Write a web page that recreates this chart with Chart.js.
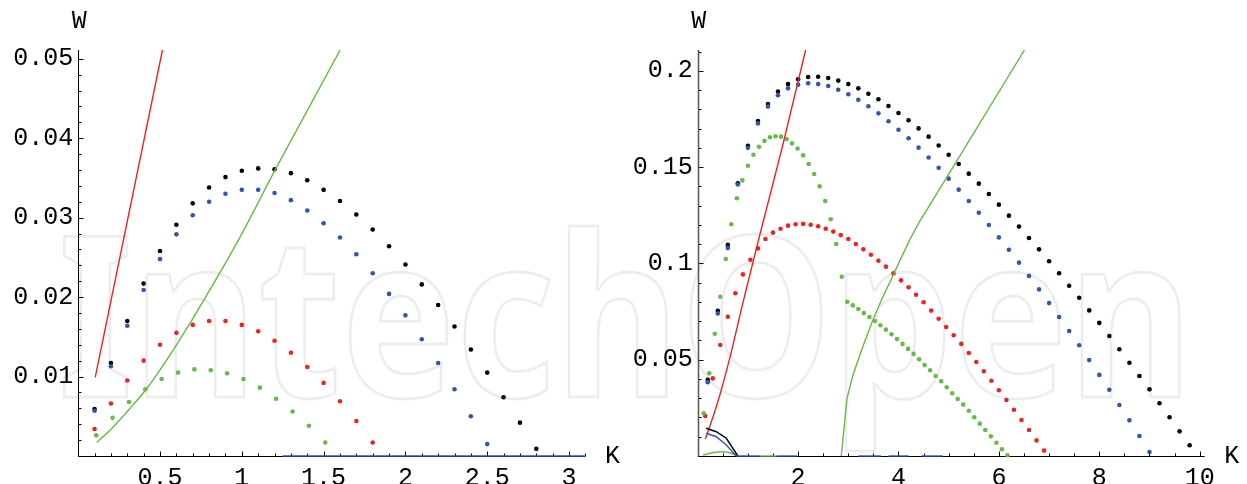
<!DOCTYPE html>
<html>
<head>
<meta charset="utf-8">
<script src="https://cdn.jsdelivr.net/npm/chart.js@4.4.1/dist/chart.umd.min.js"></script>
<style>
  html, body { margin: 0; padding: 0; background: #fff; }
  #wrap { position: relative; width: 1247px; height: 484px; }
  canvas { position: absolute; top: 0; }
  #left { left: 0; }
  #right { left: 623px; }
</style>
</head>
<body>
<div id="wrap">
  <canvas id="left" width="623" height="484"></canvas>
  <canvas id="right" width="624" height="484"></canvas>
</div>
<script>
// ---- left panel data ----
var leftK = [0.1,0.2,0.3,0.4,0.5,0.6,0.7,0.8,0.9,1.0,1.1,1.2,1.3,1.4,1.5,1.6,1.7,1.8,1.9,2.0,2.1,2.2,2.3,2.4,2.5,2.6,2.7,2.8];
var leftBlack = [0.0059,0.0117,0.0170,0.0217,0.0258,0.0291,0.0318,0.0338,0.0351,0.0359,0.0362,0.0361,0.0356,0.0347,0.0335,0.0321,0.0304,0.0285,0.0264,0.0241,0.0216,0.0190,0.0163,0.0134,0.0105,0.0074,0.0042,0.0009];
var leftBlue = [0.0057,0.0113,0.0164,0.0209,0.0248,0.0279,0.0303,0.0320,0.0330,0.0335,0.0335,0.0331,0.0322,0.0309,0.0293,0.0275,0.0254,0.0230,0.0204,0.0177,0.0147,0.0117,0.0084,0.0050,0.0015];
var leftRed = [0.0034,0.0066,0.0095,0.0120,0.0140,0.0155,0.0165,0.0170,0.0170,0.0165,0.0157,0.0145,0.0130,0.0112,0.0092,0.0069,0.0044,0.0017];
var leftGreenK = [0.11,0.21,0.31,0.41,0.51,0.61,0.71,0.81,0.91,1.01,1.11,1.21,1.31,1.41,1.51];
var leftGreen = [0.0026,0.0048,0.0068,0.0084,0.0097,0.0105,0.0109,0.0108,0.0104,0.0097,0.0086,0.0072,0.0056,0.0038,0.0017];
var leftRedLineK = [0.104,0.515];
var leftRedLine = [0.0099,0.0511];
var leftGreenLineK = [0.114,0.206,0.308,0.416,0.512,0.613,0.715,0.98,1.206,1.601];
var leftGreenLine = [0.0017,0.0035,0.0058,0.0084,0.0112,0.0144,0.0178,0.0272,0.0361,0.0511];
var leftBlueZeroK = [1.25,3.1];
var leftXTicks = [0.5,1,1.5,2,2.5,3];
var leftYTicks = [0.01,0.02,0.03,0.04,0.05];

// ---- right panel data ----
var rightK = [0.2,0.4,0.6,0.8,1.0,1.2,1.4,1.6,1.8,2.0,2.2,2.4,2.6,2.8,3.0,3.2,3.4,3.6,3.8,4.0,4.2,4.4,4.6,4.8,5.0,5.2,5.4,5.6,5.8,6.0,6.2,6.4,6.6,6.8,7.0,7.2,7.4,7.6,7.8,8.0,8.2,8.4,8.6,8.8,9.0,9.2,9.4,9.6,9.8];
var rightBlack = [0.0395,0.0754,0.1096,0.1416,0.161,0.1739,0.1828,0.1892,0.1931,0.1956,0.1968,0.1969,0.1963,0.1949,0.1931,0.1909,0.1881,0.1852,0.1817,0.1781,0.1743,0.1701,0.1658,0.1612,0.1564,0.1516,0.1466,0.1414,0.1360,0.1305,0.1248,0.1191,0.1132,0.1073,0.1011,0.0949,0.0884,0.0822,0.0756,0.0691,0.0623,0.0554,0.0484,0.0415,0.0346,0.0274,0.0201,0.0128,0.0056];
var rightBlue = [0.0383,0.074,0.108,0.141,0.160,0.1727,0.1814,0.1873,0.1909,0.1928,0.1935,0.1931,0.1921,0.1902,0.1878,0.1850,0.1816,0.1779,0.1738,0.1694,0.1650,0.1601,0.1550,0.1496,0.1440,0.1383,0.1324,0.1263,0.1199,0.1135,0.1071,0.1004,0.0935,0.0865,0.0794,0.0722,0.0649,0.0575,0.0498,0.0421,0.0344,0.0265,0.0185,0.0104,0.0021];
var rightRedK = [0.15,0.3,0.45,0.6,0.75,0.9,1.05,1.2,1.35,1.5,1.65,1.8,1.95,2.1,2.25,2.4,2.55,2.7,2.85,3.0,3.15,3.3,3.45,3.6,3.75,3.9,4.05,4.2,4.35,4.5,4.65,4.8,4.95,5.1,5.25,5.4,5.55,5.7,5.85,6.0,6.15,6.3,6.45,6.6,6.75,6.9];
var rightRed = [0.0208,0.0403,0.0576,0.0723,0.0845,0.0943,0.1019,0.1078,0.1127,0.1160,0.1180,0.1196,0.1203,0.1205,0.1201,0.1193,0.1180,0.1165,0.1147,0.1127,0.1101,0.1073,0.1045,0.1014,0.0983,0.0948,0.0912,0.0876,0.0837,0.0798,0.0755,0.0713,0.0670,0.0627,0.0582,0.0535,0.0488,0.0440,0.0391,0.0341,0.0291,0.0240,0.0187,0.0135,0.0081,0.0028];
var rightGreenK = [0.12,0.23,0.34,0.45,0.56,0.67,0.78,0.89,1.00,1.11,1.22,1.33,1.44,1.55,1.66,1.77,1.88,1.99,2.10,2.21,2.32,2.43,2.54,2.65,2.76,2.87,2.98,3.09,3.20,3.31,3.42,3.53,3.64,3.75,3.86,3.97,4.08,4.19,4.30,4.41,4.52,4.63,4.74,4.85,4.96,5.07,5.18,5.29,5.40,5.51,5.62,5.73,5.84,5.95,6.06,6.17];
var rightGreen = [0.0222,0.0429,0.0635,0.0827,0.1023,0.1203,0.1338,0.1431,0.1507,0.1564,0.1606,0.1636,0.1655,0.1660,0.1658,0.1646,0.1623,0.1596,0.1561,0.1516,0.1464,0.1400,0.1324,0.1229,0.1101,0.0931,0.0801,0.0782,0.0763,0.0742,0.0722,0.0701,0.0679,0.0656,0.0632,0.0607,0.0582,0.0556,0.0530,0.0502,0.0472,0.0445,0.0415,0.0388,0.0357,0.0326,0.0296,0.0267,0.0235,0.0201,0.0168,0.0135,0.0102,0.0069,0.0035,0.0004];
var rightRedLineK = [0.153,0.4,0.65,0.9,1.2,1.7,2.15];
var rightRedLine = [0.0088,0.028,0.052,0.0795,0.111,0.162,0.2108];
var rightGreenLineK = [2.86,2.975,3.094,3.29,3.49,3.66,4.22,4.42,5.086,6.51];
var rightGreenLine = [0,0.030,0.0421,0.0568,0.0706,0.081,0.1121,0.1217,0.150,0.2108];
var rightBlackCurveK = [0.17,0.37,0.57,0.80];
var rightBlackCurve = [0.0144,0.0126,0.0092,0];
var rightBlueCurveK = [0.17,0.37,0.57,0.77];
var rightBlueCurve = [0.0118,0.0100,0.0057,0];
var rightGreenCurveK = [0.105,0.30,0.47,0.64,0.77];
var rightGreenCurve = [0.0005,0.0017,0.0022,0.0017,0.0002];
var rightBlueZero = [[0.77,1.24],[1.57,1.98],[3.2,3.65],[3.8,4.2],[4.46,4.88]];
var rightGreenZero = [[1.24,1.57]];
var rightXTicks = [2,4,6,8,10];
var rightYTicks = [0.05,0.1,0.15,0.2];

var BLACK = '#000000', BLUE = '#3355aa', RED = '#ee2222', GREEN = '#66bb44';
var tickFont = { family: 'Liberation Mono', size: 25 };

function pts(xs, ys) {
  return ys.map(function(v, i) { return { x: xs[i], y: v }; });
}
function dots(xs, ys, color) {
  return { data: pts(xs, ys), showLine: false, pointRadius: 2.3, pointBorderWidth: 0,
           pointBackgroundColor: color, clip: false };
}
function line(xs, ys, color, smooth) {
  return { data: pts(xs, ys), showLine: true, pointRadius: 0, borderColor: color,
           borderWidth: 1.4, cubicInterpolationMode: smooth ? 'monotone' : 'default', tension: smooth ? 0.4 : 0 };
}
function zeros(segs, color) {
  return segs.map(function(s) {
    return { data: [{ x: s[0], y: 0 }, { x: s[1], y: 0 }], showLine: true, pointRadius: 0,
             borderColor: color, borderWidth: 1.4, clip: false };
  });
}
function fmt(v) { return v === 0 ? '' : String(Number(v.toFixed(4))); }

// inward axis ticks, W/K labels and the faint watermark
function decor(cfg) {
  return {
    id: 'decor',
    beforeDraw: function(chart) {
      var ctx = chart.ctx;
      ctx.save();
      ctx.font = 'bold 224px "Noto Sans"';
      var w = ctx.measureText('IntechOpen').width;
      ctx.translate(58 - cfg.offset, 397);
      ctx.scale(1135 / w, 1);
      ctx.strokeStyle = 'rgba(0,0,0,0.07)';
      ctx.lineWidth = 3;
      ctx.strokeText('IntechOpen', 0, 0);
      ctx.restore();
    },
    beforeDatasetsDraw: function(chart) {
      var ctx = chart.ctx, a = chart.chartArea, x = chart.scales.x, y = chart.scales.y;
      var left = Math.round(a.left) + 0.5, bottom = Math.round(a.bottom) + 0.5;
      ctx.save();
      ctx.strokeStyle = '#000';
      ctx.lineWidth = 1;
      ctx.beginPath();
      ctx.moveTo(a.left, bottom); ctx.lineTo(a.right, bottom);
      var i, v, px, len;
      for (i = 1; (v = i * cfg.minorX) <= x.max + 1e-9; i++) {
        px = Math.round(x.getPixelForValue(v)) + 0.5;
        len = (i % cfg.majorEveryX === 0) ? 5 : 3;
        ctx.moveTo(px, bottom); ctx.lineTo(px, bottom - len);
      }
      for (i = 1; (v = i * cfg.minorY) <= y.max + 1e-9; i++) {
        px = Math.round(y.getPixelForValue(v)) + 0.5;
        len = (i % cfg.majorEveryY === 0) ? 5 : 3;
        ctx.moveTo(left, px); ctx.lineTo(left + len, px);
      }
      ctx.stroke();
      ctx.beginPath();
      ctx.strokeStyle = cfg.yAxisColor;
      ctx.lineWidth = cfg.yAxisWidth;
      ctx.moveTo(left, a.top); ctx.lineTo(left, bottom);
      ctx.stroke();
      ctx.fillStyle = '#000';
      ctx.font = '25px "Liberation Mono"';
      ctx.textAlign = 'center';
      ctx.textBaseline = 'middle';
      ctx.fillText('W', a.left + 1, 21);
      ctx.fillText('K', a.right + 27, a.bottom);
      ctx.restore();
    }
  };
}

function makeChart(id, cfg) {
  return new Chart(document.getElementById(id), {
    type: 'scatter',
    data: { datasets: cfg.datasets },
    options: {
      responsive: false,
      animation: false,
      events: [],
      layout: { padding: { left: 0, right: cfg.padRight, top: 50, bottom: 0 } },
      plugins: { legend: { display: false }, tooltip: { enabled: false } },
      scales: {
        x: {
          type: 'linear', min: 0, max: cfg.xMax,
          grid: { display: false, drawTicks: false }, border: { display: false },
          afterBuildTicks: function(s) { s.ticks = cfg.xTicks.map(function(v) { return { value: v }; }); },
          afterFit: function(s) { s.height = 28; },
          ticks: { font: tickFont, color: '#000', padding: 7, maxRotation: 0, autoSkip: false,
                   callback: function(v) { return fmt(v); } }
        },
        y: {
          type: 'linear', min: 0, max: cfg.yMax,
          grid: { display: false, drawTicks: false }, border: { display: false },
          afterBuildTicks: function(s) { s.ticks = cfg.yTicks.map(function(v) { return { value: v }; }); },
          afterFit: function(s) { s.width = cfg.yWidth; },
          ticks: { font: tickFont, color: '#000', padding: 5, autoSkip: false,
                   callback: function(v) { return fmt(v); } }
        }
      }
    },
    plugins: [decor(cfg)]
  });
}

makeChart('left', {
  offset: 0, padRight: 37.6, yWidth: 78.2, xMax: 3.1, yMax: 0.0511,
  xTicks: leftXTicks, yTicks: leftYTicks,
  minorX: 0.1, majorEveryX: 5, minorY: 0.002, majorEveryY: 5,
  yAxisColor: '#000', yAxisWidth: 1,
  datasets: [].concat(zeros([leftBlueZeroK], BLUE), [
    line(leftRedLineK, leftRedLine, RED, false),
    line(leftGreenLineK, leftGreenLine, GREEN, true),
    dots(leftGreenK, leftGreen, GREEN),
    dots(leftK.slice(0, leftRed.length), leftRed, RED),
    dots(leftK.slice(0, leftBlue.length), leftBlue, BLUE),
    dots(leftK, leftBlack, BLACK)
  ])
});

makeChart('right', {
  offset: 623, padRight: 42.3, yWidth: 74.7, xMax: 10.1, yMax: 0.2108,
  xTicks: rightXTicks, yTicks: rightYTicks,
  minorX: 0.5, majorEveryX: 4, minorY: 0.01, majorEveryY: 5,
  yAxisColor: '#555', yAxisWidth: 1.5,
  datasets: [].concat(zeros(rightBlueZero, BLUE), zeros(rightGreenZero, GREEN), [
    line(rightBlackCurveK, rightBlackCurve, BLACK, false),
    line(rightBlueCurveK, rightBlueCurve, BLUE, false),
    line(rightGreenCurveK, rightGreenCurve, GREEN, true),
    line(rightRedLineK, rightRedLine, RED, true),
    line(rightGreenLineK, rightGreenLine, GREEN, false),
    dots(rightGreenK, rightGreen, GREEN),
    dots(rightRedK, rightRed, RED),
    dots(rightK.slice(0, rightBlue.length), rightBlue, BLUE),
    dots(rightK, rightBlack, BLACK)
  ])
});
</script>
</body>
</html>
